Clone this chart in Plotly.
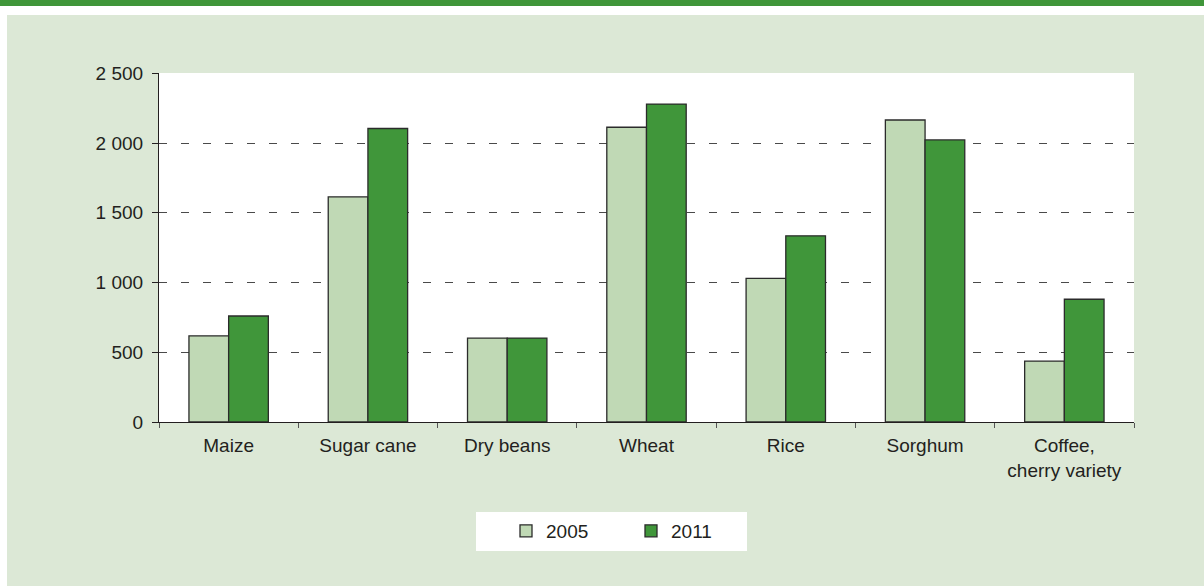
import plotly.graph_objects as go

categories = ["Maize", "Sugar cane", "Dry beans", "Wheat", "Rice", "Sorghum", "Coffee,<br>cherry variety"]
values_2005 = [618, 1614, 602, 2113, 1030, 2165, 437]
values_2011 = [760, 2104, 602, 2279, 1335, 2022, 880]
y_ticks = [0, 500, 1000, 1500, 2000, 2500]

W, H = 1204, 586
L, R, T, B = 159, 1134, 73, 422  # plot area pixel edges


def px_x(p):
    return (p - L) / (R - L)


def px_y(p):
    return (B - p) / (B - T)


LIGHT = "#c0d9b5"
DARK = "#40963a"
BG = "#dce8d6"
FONT = "Liberation Sans, Arial, Helvetica, sans-serif"

fig = go.Figure()
fig.add_trace(go.Bar(name="2005", x=categories, y=values_2005,
                     marker=dict(color=LIGHT, line=dict(color="#2b2b2b", width=1.3))))
fig.add_trace(go.Bar(name="2011", x=categories, y=values_2011,
                     marker=dict(color=DARK, line=dict(color="#2b2b2b", width=1.3))))

shapes = [
    dict(type="rect", xref="paper", yref="paper", x0=px_x(7), x1=px_x(W + 5),
         y0=px_y(15), y1=px_y(H + 5), fillcolor=BG, line=dict(width=0), layer="below"),
    dict(type="rect", xref="paper", yref="paper", x0=px_x(-5), x1=px_x(W + 5),
         y0=px_y(-5), y1=px_y(6), fillcolor=DARK, line=dict(width=0), layer="below"),
    dict(type="rect", xref="paper", yref="paper", x0=0, x1=1, y0=0, y1=1,
         fillcolor="white", line=dict(width=0), layer="below"),
    dict(type="rect", xref="paper", yref="paper", x0=px_x(476), x1=px_x(747),
         y0=px_y(512), y1=px_y(551), fillcolor="white", line=dict(width=0), layer="below"),
]

fig.update_layout(
    width=W, height=H,
    margin=dict(l=L, r=W - R, t=T, b=H - B, pad=0),
    paper_bgcolor="white",
    plot_bgcolor="rgba(0,0,0,0)",
    separators=". ",
    font=dict(family=FONT, size=19, color="#231f20"),
    barmode="group",
    bargap=0.43,
    bargroupgap=0,
    shapes=shapes,
    showlegend=True,
    legend=dict(orientation="h", x=px_x(506), xanchor="left", y=px_y(531), yanchor="middle",
                bgcolor="rgba(0,0,0,0)", font=dict(size=19), entrywidth=80,
                traceorder="normal", itemclick=False),
    xaxis=dict(showline=True, linecolor="#231f20", linewidth=1.2, ticks="outside",
               tickson="boundaries", ticklen=5, tickcolor="#555", showgrid=False,
               ticklabelstandoff=6, fixedrange=True),
    yaxis=dict(range=[0, 2502], tickvals=y_ticks, tickformat=",d", showline=True,
               linecolor="#231f20", linewidth=1.2, ticks="outside", ticklen=6,
               tickcolor="#231f20", showgrid=True, gridcolor="#4a4a4a",
               griddash="8px,14px", gridwidth=1, zeroline=False,
               ticklabelstandoff=5, fixedrange=True),
)

fig.write_html("out.html", config={"displayModeBar": False},
               post_script="document.body.style.margin='0';")
